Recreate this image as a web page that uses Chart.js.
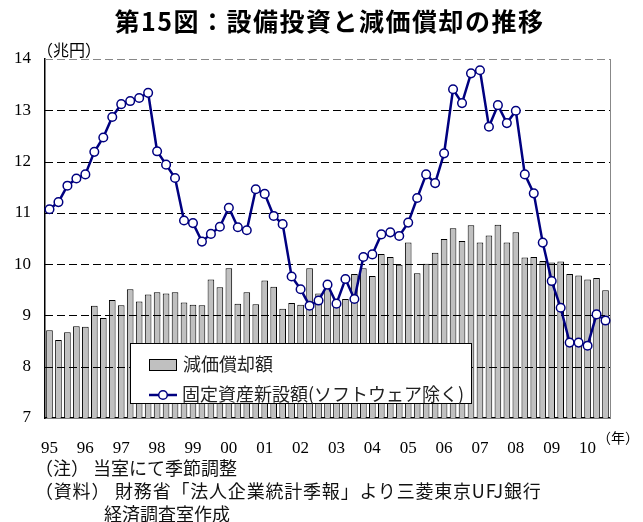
<!DOCTYPE html>
<html>
<head>
<meta charset="utf-8">
<script src="https://cdn.jsdelivr.net/npm/chart.js@4.4.1/dist/chart.umd.min.js"></script>
<style>
  html, body { margin: 0; padding: 0; background: #fff; }
  #wrap { position: relative; width: 643px; height: 522px; overflow: hidden; }
  #c { position: absolute; left: 0; top: 0; }
  .t { position: absolute; white-space: nowrap; color: #000; }
  #title { left: 8px; width: 643px; top: 2px; text-align: center; font: bold 25px "Noto Sans CJK JP"; letter-spacing: 1.5px; }
  #unit { left: 37px; top: 37px; font: 16px "Noto Sans CJK JP"; }
  #nen { left: 597px; top: 427px; font: 14px "Noto Sans CJK JP"; }
  .note { font: 18px "Noto Sans CJK JP"; color: #111; }
  #legend { position: absolute; left: 130px; top: 343px; width: 340px; height: 59px; background: #fff; border: 1px solid #000; }
  .li { position: absolute; left: 18px; font: 18px "Noto Sans CJK JP"; color: #222; white-space: nowrap; }
  .sw { display: inline-block; width: 26px; height: 10px; background: #c0c0c0; border: 1px solid #000; vertical-align: middle; margin-right: 6px; position: relative; top: -1px; }
  .ln { display: inline-block; width: 28px; height: 12px; vertical-align: middle; margin-right: 5px; position: relative; top: -1px; }
</style>
</head>
<body>
<div id="wrap">
  <canvas id="c" width="643" height="522"></canvas>
  <div class="t" id="title">第15図：設備投資と減価償却の推移</div>
  <div class="t" id="unit">（兆円）</div>
  <div class="t" id="nen">（年）</div>
  <div id="legend">
    <div class="li" style="top:6px;"><span class="sw"></span>減価償却額</div>
    <div class="li" style="top:36px;"><svg class="ln" viewBox="0 0 28 12"><line x1="0" y1="6" x2="28" y2="6" stroke="#000080" stroke-width="2.5"/><circle cx="14" cy="6" r="4.3" fill="#fff" stroke="#000080" stroke-width="1.5"/></svg>固定資産新設額(ソフトウェア除く)</div>
  </div>
  <div class="t note" style="left:35px; top:454px;">（注） 当室にて季節調整</div>
  <div class="t note" style="left:35px; top:477px; letter-spacing: 0.8px;">（資料） 財務省「法人企業統計季報」より三菱東京UFJ銀行</div>
  <div class="t note" style="left:104px; top:500px;">経済調査室作成</div>
</div>
<script>
// Year tick labels (one per year, shown at Q1)
const years = ['95','96','97','98','99','00','01','02','03','04','05','06','07','08','09','10'];

// 減価償却額 (quarterly, 兆円) 1995Q1 - 2010Q3
const depreciation = [
  8.71, 8.52, 8.67, 8.79, 8.78, 9.19, 8.95, 9.30, 9.20, 9.51, 9.27, 9.41, 9.45, 9.43, 9.45,
  9.25, 9.21, 9.20, 9.70, 9.55, 9.92, 9.23, 9.45, 9.22, 9.68, 9.56, 9.13, 9.24, 9.21, 9.92, 9.43, 9.64,
  9.25, 9.32, 9.81, 9.92, 9.77, 10.20, 10.14, 9.99, 10.42, 9.82, 10.01, 10.22, 10.49, 10.70, 10.45,
  10.76, 10.42, 10.56, 10.77, 10.42, 10.62, 10.13, 10.14, 10.06, 10.03, 10.05, 9.81, 9.78, 9.70, 9.73, 9.49
];

// 固定資産新設額(ソフトウェア除く) (quarterly, 兆円)
const investment = [
  11.07, 11.21, 11.53, 11.67, 11.75, 12.19, 12.47, 12.87, 13.12, 13.18, 13.24, 13.34, 12.20, 11.94, 11.68,
  10.85, 10.80, 10.44, 10.59, 10.73, 11.10, 10.72, 10.66, 11.46, 11.37, 10.94, 10.78, 9.76, 9.51, 9.19, 9.29, 9.60,
  9.23, 9.71, 9.32, 10.14, 10.19, 10.58, 10.62, 10.55, 10.81, 11.29, 11.75, 11.58, 12.16, 13.41, 13.14,
  13.72, 13.78, 12.68, 13.10, 12.75, 12.99, 11.75, 11.38, 10.42, 9.67, 9.15, 8.47, 8.47, 8.41, 9.02, 8.90
];

const labels = [];
years.forEach(y => { labels.push(y, '', '', ''); });
labels.length = depreciation.length;

const gridOverBars = {
  id: 'gridOverBars',
  afterDatasetDraw(chart, args) {
    if (args.meta.type !== 'bar') return;
    const { ctx, chartArea: a, scales: { y } } = chart;
    ctx.save();
    ctx.lineWidth = 1;
    ctx.setLineDash([8, 4]);
    y.ticks.forEach(t => {
      if (t.value === y.min) return;
      const py = Math.round(y.getPixelForValue(t.value)) + 0.5;
      ctx.strokeStyle = t.value === y.max ? '#888' : '#000';
      ctx.beginPath();
      ctx.moveTo(a.left, py);
      ctx.lineTo(a.right, py);
      ctx.stroke();
    });
    ctx.setLineDash([]);
    ctx.strokeStyle = '#888';
    ctx.beginPath();
    ctx.moveTo(Math.round(a.right) + 0.5, a.top);
    ctx.lineTo(Math.round(a.right) + 0.5, a.bottom);
    ctx.stroke();
    ctx.restore();
  }
};

new Chart(document.getElementById('c'), {
  type: 'bar',
  data: {
    labels: labels,
    datasets: [
      {
        type: 'line',
        label: '固定資産新設額(ソフトウェア除く)',
        data: investment,
        order: 0,
        borderColor: '#000080',
        borderWidth: 2.5,
        tension: 0,
        pointRadius: 4.3,
        pointBackgroundColor: '#fff',
        pointBorderColor: '#000080',
        pointBorderWidth: 1.5
      },
      {
        type: 'bar',
        label: '減価償却額',
        data: depreciation,
        order: 1,
        backgroundColor: '#c0c0c0',
        borderColor: '#000',
        borderWidth: 1,
        barPercentage: 0.74,
        categoryPercentage: 1.0
      }
    ]
  },
  options: {
    responsive: false,
    animation: false,
    devicePixelRatio: 1,
    layout: { padding: { top: 59, right: 33, left: 0, bottom: 0 } },
    plugins: {
      legend: { display: false },
      title: { display: false },
      tooltip: { enabled: false }
    },
    scales: {
      x: {
        offset: true,
        grid: { display: false, drawTicks: false },
        border: { display: true, color: '#000', width: 1.5 },
        ticks: {
          autoSkip: false, maxRotation: 0, minRotation: 0,
          padding: 20,
          color: '#000',
          font: { family: '"Liberation Serif"', size: 17 }
        },
        afterFit: s => { s.height = 104; }
      },
      y: {
        min: 7, max: 14,
        grid: { display: false, drawTicks: false },
        border: { display: true, color: '#000', width: 1.5 },
        ticks: {
          stepSize: 1,
          padding: 14,
          color: '#000',
          font: { family: '"Liberation Serif"', size: 17 }
        },
        afterFit: s => { s.width = 45; }
      }
    }
  },
  plugins: [gridOverBars]
});
</script>
</body>
</html>
